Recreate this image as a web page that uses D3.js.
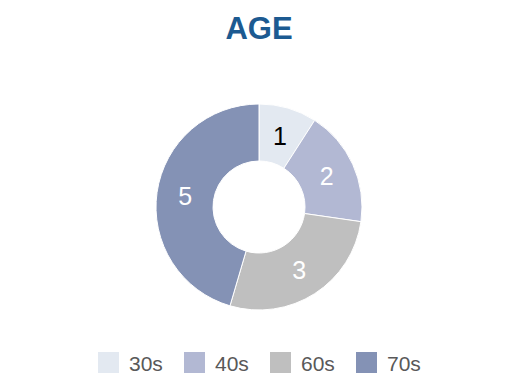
<script src="https://d3js.org/d3.v7.min.js"></script>
<style>
body { margin: 0; background: #fff; }
svg { display: block; font-family: "Liberation Sans", Arial, sans-serif; }
</style>
<svg width="518" height="384"></svg>
<script>
const categories = ['30s', '40s', '60s', '70s'];
const values = [1, 2, 3, 5];
const colors = ['#e3e9f1', '#b2b8d3', '#bfbfbf', '#8492b5'];
const labelColors = ['#000000', '#ffffff', '#ffffff', '#ffffff'];

const svg = d3.select('svg');
const cx = 259, cy = 207;
const outerR = 103, innerR = 46;

svg.append('text')
  .attr('x', 259)
  .attr('y', 39)
  .attr('text-anchor', 'middle')
  .attr('font-size', 31)
  .attr('font-weight', 'bold')
  .attr('fill', '#1c5a91')
  .text('AGE');

const pie = d3.pie().sort(null).value(d => d);
const arc = d3.arc().innerRadius(innerR).outerRadius(outerR);
const arcs = pie(values);

const g = svg.append('g').attr('transform', `translate(${cx},${cy})`);

g.selectAll('path')
  .data(arcs)
  .enter()
  .append('path')
  .attr('d', arc)
  .attr('fill', (d, i) => colors[i])
  .attr('stroke', '#fff')
  .attr('stroke-width', 1);

g.selectAll('text')
  .data(arcs)
  .enter()
  .append('text')
  .attr('transform', d => `translate(${arc.centroid(d)})`)
  .attr('text-anchor', 'middle')
  .attr('dy', '0.36em')
  .attr('font-size', 25)
  .attr('fill', (d, i) => labelColors[i])
  .text(d => d.data);

const legend = svg.append('g').attr('transform', 'translate(98,352)');
const item = legend.selectAll('g')
  .data(categories)
  .enter()
  .append('g')
  .attr('transform', (d, i) => `translate(${i * 86},0)`);

item.append('rect')
  .attr('width', 21)
  .attr('height', 21)
  .attr('fill', (d, i) => colors[i]);

item.append('text')
  .attr('x', 31)
  .attr('y', 19)
  .attr('font-size', 21)
  .attr('fill', '#595959')
  .text(d => d);
</script>
